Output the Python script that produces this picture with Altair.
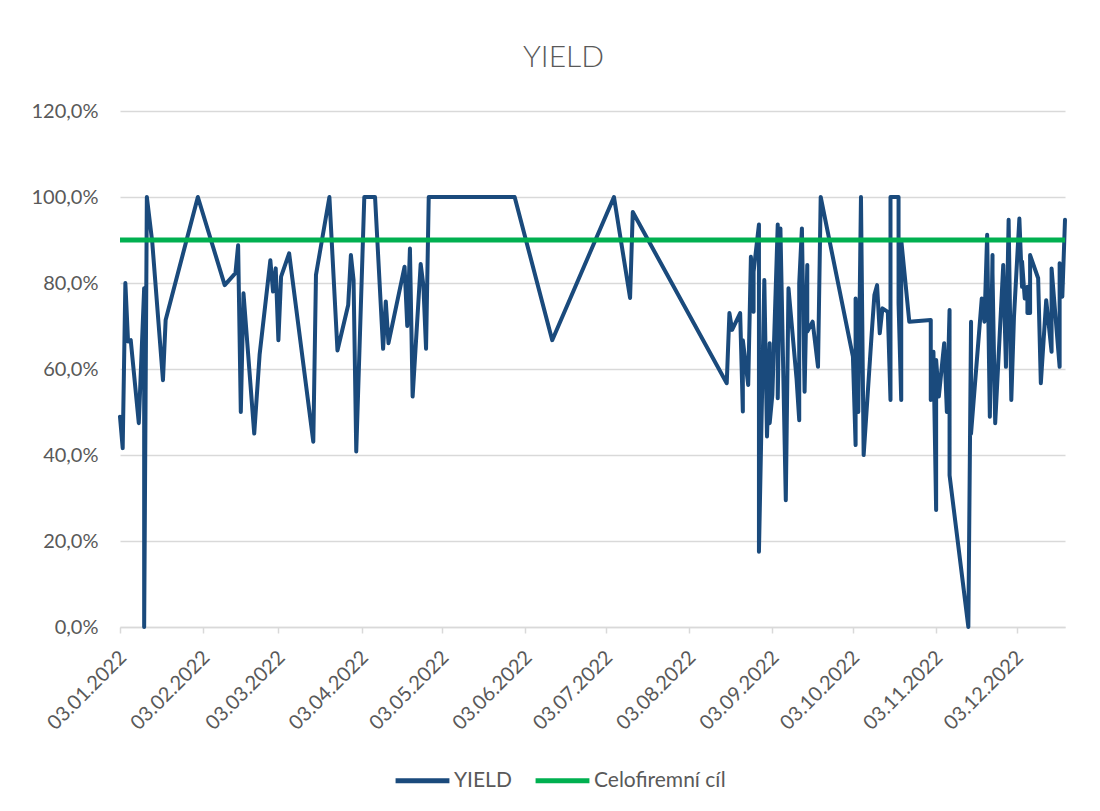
import altair as alt
import pandas as pd

# ---- data ----
dates = [
    "2022-01-03", "2022-01-04", "2022-01-05", "2022-01-06", "2022-01-07", "2022-01-10",
    "2022-01-12", "2022-01-12", "2022-01-13", "2022-01-15", "2022-01-19", "2022-01-20",
    "2022-02-01", "2022-02-11", "2022-02-15", "2022-02-16", "2022-02-17", "2022-02-18",
    "2022-02-22", "2022-02-24", "2022-02-28",
    "2022-03-01", "2022-03-02", "2022-03-03", "2022-03-04", "2022-03-07", "2022-03-16",
    "2022-03-17", "2022-03-22", "2022-03-25", "2022-03-29", "2022-03-30", "2022-03-31",
    "2022-04-01", "2022-04-04", "2022-04-08", "2022-04-11", "2022-04-12", "2022-04-13",
    "2022-04-19", "2022-04-20", "2022-04-21", "2022-04-22", "2022-04-25", "2022-04-26",
    "2022-04-27", "2022-04-28",
    "2022-05-30", "2022-06-13", "2022-07-06", "2022-07-12", "2022-07-13",
    "2022-08-17", "2022-08-18", "2022-08-19", "2022-08-22", "2022-08-23", "2022-08-23",
    "2022-08-25", "2022-08-26", "2022-08-27", "2022-08-27", "2022-08-29", "2022-08-29",
    "2022-08-31",
    "2022-09-01", "2022-09-02", "2022-09-02", "2022-09-03", "2022-09-05", "2022-09-05",
    "2022-09-06", "2022-09-08", "2022-09-09", "2022-09-12", "2022-09-13", "2022-09-13",
    "2022-09-14", "2022-09-15", "2022-09-16", "2022-09-16", "2022-09-18", "2022-09-20",
    "2022-09-21",
    "2022-10-03", "2022-10-04", "2022-10-04", "2022-10-05", "2022-10-06", "2022-10-07",
    "2022-10-10", "2022-10-11", "2022-10-12", "2022-10-13", "2022-10-14", "2022-10-16",
    "2022-10-17", "2022-10-17", "2022-10-20", "2022-10-20", "2022-10-21", "2022-10-21",
    "2022-10-24",
    "2022-11-01", "2022-11-01", "2022-11-02", "2022-11-03", "2022-11-03", "2022-11-04",
    "2022-11-06", "2022-11-07", "2022-11-08", "2022-11-08", "2022-11-15", "2022-11-16",
    "2022-11-16", "2022-11-20", "2022-11-21", "2022-11-22", "2022-11-23", "2022-11-24",
    "2022-11-24", "2022-11-25", "2022-11-28", "2022-11-29", "2022-11-30",
    "2022-12-01", "2022-12-02", "2022-12-04", "2022-12-05", "2022-12-05", "2022-12-06",
    "2022-12-07", "2022-12-07", "2022-12-08", "2022-12-08", "2022-12-11", "2022-12-12",
    "2022-12-14", "2022-12-16", "2022-12-16", "2022-12-19", "2022-12-19", "2022-12-20",
    "2022-12-21",
]

yield_pct = [
    48.9, 41.6, 80.0, 66.4, 66.7, 47.4, 78.8, 0.0, 100.0, 89.6, 57.4, 71.4,
    100.0, 79.5, 82.3, 88.8, 50.0, 77.6, 45.0, 63.3, 85.3,
    78.0, 83.4, 66.7, 81.5, 86.9, 43.1, 81.9, 100.0, 64.3, 74.9, 86.5, 80.7,
    40.8, 100.0, 100.0, 64.7, 75.7, 66.0, 83.8, 70.0, 88.0, 53.6, 84.4, 79.5, 64.7, 100.0,
    100.0, 66.7, 100.0, 76.5, 96.5,
    56.7, 73.0, 69.1, 73.0, 50.1, 66.7, 56.3, 86.1, 73.3, 82.6, 93.6, 17.5, 80.7,
    44.3, 66.0, 47.4, 54.0, 93.6, 53.2, 92.7, 29.5, 78.8, 57.8, 48.1, 79.9, 92.7, 54.7,
    84.2, 68.7, 71.0, 60.5, 100.0,
    62.9, 42.3, 76.4, 50.0, 100.0, 40.0, 68.3, 77.2, 79.5, 68.3, 74.1, 73.3, 52.8, 100.0,
    100.0, 75.3, 52.8, 90.0, 71.0,
    71.4, 52.8, 64.0, 27.2, 62.1, 53.6, 66.0, 50.0, 73.7, 35.3, 0.0, 71.0, 45.0, 76.4,
    71.0, 91.2, 48.9, 86.5, 82.3, 47.4, 84.2, 60.5, 94.7,
    52.8, 72.2, 95.0, 79.1, 85.0, 76.4, 79.1, 73.0, 73.0, 86.5, 81.1, 56.7, 76.0, 64.0,
    83.4, 60.5, 84.6, 76.8, 94.7,
]

target_pct = 90.0
axis_start = "2022-01-03"
axis_end = "2022-12-21"

tick_dates = [
    "2022-01-03", "2022-02-03", "2022-03-03", "2022-04-03", "2022-05-03", "2022-06-03",
    "2022-07-03", "2022-08-03", "2022-09-03", "2022-10-03", "2022-11-03", "2022-12-03",
]
y_ticks = [0.0, 0.2, 0.4, 0.6, 0.8, 1.0, 1.2]

series_names = ["YIELD", "Celofiremní cíl"]
series_colors = ["#1a4a7c", "#00b050"]

# ---- tables ----
df_yield = pd.DataFrame({
    "date": pd.to_datetime(dates),
    "value": [v / 100 for v in yield_pct],
    "series": series_names[0],
    "idx": list(range(len(dates))),
})
df_target = pd.DataFrame({
    "date": pd.to_datetime([axis_start, axis_end]),
    "value": [target_pct / 100] * 2,
    "series": series_names[1],
    "idx": [0, 1],
})


def dt(s):
    t = pd.Timestamp(s)
    return alt.DateTime(year=t.year, month=t.month, date=t.day)


TEXT = "#595959"
GRID = "#d9d9d9"
FONT = "Lato"

x_enc = alt.X(
    "date:T",
    scale=alt.Scale(domain=[dt(axis_start), dt(axis_end)], nice=False),
    axis=alt.Axis(
        values=[dt(s) for s in tick_dates],
        format="%d.%m.%Y",
        labelAngle=-45,
        labelAlign="right",
        labelBaseline="middle",
        labelPadding=21,
        labelOffset=3,
        labelFlush=False,
        labelOverlap=False,
        labelFontSize=20,
        labelColor=TEXT,
        labelFont=FONT,
        tickSize=6,
        tickColor=GRID,
        tickWidth=1.5,
        domainColor=GRID,
        domainWidth=1.5,
        grid=False,
        title=None,
    ),
)
y_enc = alt.Y(
    "value:Q",
    scale=alt.Scale(domain=[0, 1.2], nice=False),
    axis=alt.Axis(
        values=y_ticks,
        labelExpr="replace(format(datum.value, '.1%'), '.', ',')",
        ticks=False,
        domain=False,
        gridColor=GRID,
        gridWidth=1.5,
        labelPadding=22,
        labelFontSize=20,
        labelColor=TEXT,
        labelFont=FONT,
        title=None,
    ),
)
color_enc = alt.Color(
    "series:N",
    scale=alt.Scale(domain=series_names, range=series_colors),
    legend=alt.Legend(
        orient="none",
        legendX=273,
        legendY=640,
        direction="horizontal",
        title=None,
        symbolType="stroke",
        symbolSize=2900,
        symbolStrokeWidth=5,
        labelFontSize=21,
        labelColor=TEXT,
        labelFont=FONT,
        labelOffset=2,
        columnPadding=13,
        padding=0,
    ),
)

yield_line = alt.Chart(df_yield).mark_line(
    strokeWidth=4, strokeJoin="round", strokeCap="round"
).encode(x=x_enc, y=y_enc, color=color_enc, order=alt.Order("idx:Q"))

target_line = alt.Chart(df_target).mark_line(
    strokeWidth=5, strokeCap="butt"
).encode(x=x_enc, y=y_enc, color=color_enc, order=alt.Order("idx:Q"))

chart = (
    alt.layer(yield_line, target_line)
    .properties(
        width=945,
        height=516,
        background="white",
        padding={"left": 112, "top": 103, "right": 27, "bottom": 170},
        autosize=alt.AutoSizeParams(type="none"),
        title=alt.TitleParams(
            "YIELD",
            fontSize=30,
            fontWeight=300,
            font=FONT,
            color=TEXT,
            anchor="middle",
            dx=-29,
            offset=28,
        ),
    )
    .configure_view(stroke="transparent", strokeWidth=0)
)

chart.save("out.html", embed_options={"renderer": "svg", "actions": False})
